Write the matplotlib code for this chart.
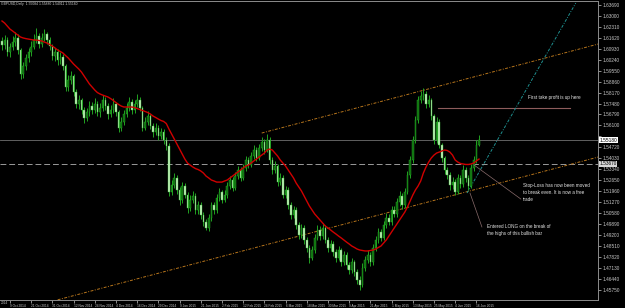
import matplotlib
matplotlib.use("Agg")
import matplotlib.pyplot as plt
import numpy as np

# ---------------- data (GBPUSD, daily) ----------------
first_open = 1.6140
closes = [1.6116, 1.6148, 1.6072, 1.6104, 1.6135, 1.6161, 1.6085, 1.5934, 1.5984, 1.6035,
          1.6072, 1.6104, 1.6148, 1.6173, 1.6123, 1.6161, 1.6186, 1.6148, 1.6110, 1.6047,
          1.6072, 1.6022, 1.6041, 1.5984, 1.5852, 1.5896, 1.5921, 1.5820, 1.5745, 1.5770,
          1.5707, 1.5657, 1.5694, 1.5732, 1.5707, 1.5745, 1.5694, 1.5720, 1.5770, 1.5732,
          1.5682, 1.5707, 1.5745, 1.5694, 1.5594, 1.5631, 1.5682, 1.5720, 1.5757, 1.5707,
          1.5745, 1.5770, 1.5720, 1.5594, 1.5631, 1.5669, 1.5606, 1.5568, 1.5594, 1.5543,
          1.5568, 1.5518, 1.5480, 1.5190, 1.5234, 1.5279, 1.5203, 1.5140, 1.5228, 1.5171,
          1.5090, 1.5140, 1.5165, 1.5077, 1.5108, 1.5045, 1.5001, 1.4964, 1.5027, 1.5108,
          1.5077, 1.5153, 1.5190, 1.5140, 1.5171, 1.5228, 1.5266, 1.5216, 1.5291, 1.5329,
          1.5279, 1.5342, 1.5392, 1.5360, 1.5417, 1.5455, 1.5405, 1.5468, 1.5505, 1.5455,
          1.5518, 1.5392, 1.5329, 1.5354, 1.5253, 1.5279, 1.5171, 1.5203, 1.5108, 1.5045,
          1.5077, 1.4982, 1.4919, 1.4964, 1.4888, 1.4838, 1.4775, 1.4825, 1.4901, 1.4951,
          1.4913, 1.4964, 1.4888, 1.4838, 1.4863, 1.4812, 1.4775, 1.4825, 1.4749, 1.4793,
          1.4730, 1.4699, 1.4749, 1.4686, 1.4636, 1.4604, 1.4712, 1.4762, 1.4793, 1.4749,
          1.4838, 1.4888, 1.4938, 1.4901, 1.4982, 1.5027, 1.5001, 1.5077, 1.5052, 1.5127,
          1.5165, 1.5108, 1.5190, 1.5297, 1.5392, 1.5518, 1.5644, 1.5770, 1.5795, 1.5808,
          1.5745, 1.5770, 1.5669, 1.5518, 1.5631, 1.5486, 1.5405, 1.5329, 1.5297, 1.5234,
          1.5253, 1.5190, 1.5279, 1.5241, 1.5329, 1.5279, 1.5228, 1.5342, 1.5392, 1.5486,
          1.5518]
highs = [1.6165, 1.6180, 1.6170, 1.6130, 1.6175, 1.6200, 1.6185, 1.6100, 1.6010, 1.6060,
         1.6100, 1.6140, 1.6185, 1.6225, 1.6190, 1.6195, 1.6215, 1.6200, 1.6165, 1.6125,
         1.6095, 1.6090, 1.6070, 1.6060, 1.6000, 1.5925, 1.5950, 1.5935, 1.5840, 1.5800,
         1.5785, 1.5725, 1.5720, 1.5765, 1.5760, 1.5780, 1.5765, 1.5750, 1.5800, 1.5790,
         1.5750, 1.5740, 1.5785, 1.5760, 1.5710, 1.5660, 1.5705, 1.5750, 1.5790, 1.5775,
         1.5770, 1.5810, 1.5790, 1.5735, 1.5660, 1.5700, 1.5685, 1.5625, 1.5625, 1.5610,
         1.5595, 1.5590, 1.5540, 1.5500, 1.5265, 1.5310, 1.5300, 1.5225, 1.5255, 1.5250,
         1.5190, 1.5170, 1.5195, 1.5185, 1.5135, 1.5125, 1.5065, 1.5020, 1.5050, 1.5130,
         1.5125, 1.5180, 1.5215, 1.5205, 1.5200, 1.5255, 1.5290, 1.5285, 1.5315, 1.5355,
         1.5350, 1.5370, 1.5420, 1.5410, 1.5445, 1.5485, 1.5475, 1.5495, 1.5535, 1.5525,
         1.5555, 1.5535, 1.5410, 1.5385, 1.5370, 1.5310, 1.5295, 1.5230, 1.5220, 1.5125,
         1.5105, 1.5095, 1.5000, 1.4990, 1.4980, 1.4905, 1.4855, 1.4850, 1.4925, 1.4985,
         1.4975, 1.4995, 1.4980, 1.4905, 1.4890, 1.4880, 1.4830, 1.4850, 1.4840, 1.4820,
         1.4810, 1.4750, 1.4775, 1.4765, 1.4705, 1.4660, 1.4740, 1.4790, 1.4825, 1.4815,
         1.4865, 1.4915, 1.4965, 1.4960, 1.5010, 1.5060, 1.5050, 1.5105, 1.5100, 1.5155,
         1.5195, 1.5185, 1.5215, 1.5320, 1.5420, 1.5545, 1.5670, 1.5795, 1.5830, 1.5845,
         1.5825, 1.5800, 1.5785, 1.5685, 1.5660, 1.5650, 1.5500, 1.5420, 1.5345, 1.5315,
         1.5285, 1.5270, 1.5305, 1.5300, 1.5360, 1.5350, 1.5295, 1.5370, 1.5420, 1.5520,
         1.5550]
lows = [1.6085, 1.6090, 1.6050, 1.6040, 1.6085, 1.6110, 1.6060, 1.5900, 1.5910, 1.5960,
        1.6010, 1.6050, 1.6090, 1.6130, 1.6100, 1.6105, 1.6140, 1.6125, 1.6085, 1.6020,
        1.6015, 1.5990, 1.5995, 1.5960, 1.5830, 1.5825, 1.5870, 1.5795, 1.5720, 1.5715,
        1.5680, 1.5625, 1.5640, 1.5670, 1.5685, 1.5690, 1.5670, 1.5665, 1.5700, 1.5710,
        1.5650, 1.5660, 1.5690, 1.5670, 1.5570, 1.5575, 1.5615, 1.5665, 1.5700, 1.5685,
        1.5690, 1.5725, 1.5700, 1.5575, 1.5580, 1.5610, 1.5585, 1.5540, 1.5550, 1.5520,
        1.5525, 1.5495, 1.5455, 1.5165, 1.5170, 1.5215, 1.5180, 1.5110, 1.5120, 1.5150,
        1.5060, 1.5070, 1.5120, 1.5050, 1.5055, 1.5020, 1.4975, 1.4950, 1.4945, 1.5010,
        1.5050, 1.5060, 1.5135, 1.5120, 1.5125, 1.5155, 1.5210, 1.5195, 1.5200, 1.5275,
        1.5260, 1.5265, 1.5325, 1.5340, 1.5345, 1.5400, 1.5385, 1.5390, 1.5450, 1.5430,
        1.5440, 1.5370, 1.5305, 1.5310, 1.5230, 1.5235, 1.5150, 1.5150, 1.5085, 1.5020,
        1.5025, 1.4960, 1.4895, 1.4900, 1.4865, 1.4810, 1.4740, 1.4760, 1.4805, 1.4885,
        1.4890, 1.4895, 1.4870, 1.4815, 1.4820, 1.4790, 1.4750, 1.4760, 1.4725, 1.4730,
        1.4705, 1.4675, 1.4680, 1.4660, 1.4610, 1.4570, 1.4590, 1.4695, 1.4740, 1.4725,
        1.4730, 1.4820, 1.4870, 1.4880, 1.4885, 1.4965, 1.4980, 1.4985, 1.5030, 1.5035,
        1.5105, 1.5085, 1.5090, 1.5175, 1.5280, 1.5375, 1.5500, 1.5625, 1.5750, 1.5770,
        1.5720, 1.5725, 1.5645, 1.5495, 1.5500, 1.5465, 1.5380, 1.5305, 1.5270, 1.5200,
        1.5210, 1.5170, 1.5175, 1.5215, 1.5225, 1.5255, 1.5200, 1.5215, 1.5325, 1.5375,
        1.5480]
# red moving average line
ma = [1.6268, 1.6255, 1.6236, 1.6217, 1.6205, 1.6192, 1.6179, 1.6167, 1.6161, 1.6157,
      1.6154, 1.6151, 1.6148, 1.6148, 1.6145, 1.6142, 1.6135, 1.6129, 1.6120, 1.6110,
      1.6098, 1.6085, 1.6076, 1.6066, 1.6050, 1.6035, 1.6016, 1.5997, 1.5981, 1.5965,
      1.5946, 1.5921, 1.5896, 1.5871, 1.5852, 1.5833, 1.5817, 1.5808, 1.5801, 1.5795,
      1.5789, 1.5779, 1.5767, 1.5754, 1.5742, 1.5732, 1.5726, 1.5726, 1.5726, 1.5726,
      1.5723, 1.5716, 1.5710, 1.5704, 1.5698, 1.5691, 1.5682, 1.5669, 1.5660, 1.5650,
      1.5641, 1.5635, 1.5622, 1.5587, 1.5556, 1.5524, 1.5493, 1.5461, 1.5430, 1.5398,
      1.5373, 1.5360, 1.5348, 1.5338, 1.5332, 1.5323, 1.5310, 1.5291, 1.5279, 1.5266,
      1.5260, 1.5253, 1.5253, 1.5253, 1.5260, 1.5266, 1.5279, 1.5291, 1.5304, 1.5316,
      1.5329, 1.5342, 1.5354, 1.5360, 1.5373, 1.5386, 1.5398, 1.5411, 1.5423, 1.5436,
      1.5455, 1.5461, 1.5455, 1.5436, 1.5417, 1.5392, 1.5373, 1.5354, 1.5329, 1.5304,
      1.5279, 1.5247, 1.5222, 1.5197, 1.5165, 1.5134, 1.5102, 1.5077, 1.5052, 1.5033,
      1.5014, 1.4995, 1.4976, 1.4964, 1.4951, 1.4938, 1.4926, 1.4913, 1.4901, 1.4888,
      1.4875, 1.4863, 1.4850, 1.4841, 1.4831, 1.4825, 1.4822, 1.4819, 1.4819, 1.4822,
      1.4825, 1.4831, 1.4841, 1.4850, 1.4869, 1.4888, 1.4913, 1.4938, 1.4964, 1.4989,
      1.5014, 1.5039, 1.5064, 1.5096, 1.5134, 1.5171, 1.5203, 1.5228, 1.5260, 1.5310,
      1.5348, 1.5379, 1.5405, 1.5423, 1.5436, 1.5442, 1.5449, 1.5455, 1.5452, 1.5442,
      1.5423, 1.5392, 1.5379, 1.5370, 1.5367, 1.5364, 1.5364, 1.5367, 1.5373, 1.5386,
      1.5398]

date_labels = ["9 Oct 2014", "21 Oct 2014", "31 Oct 2014", "12 Nov 2014", "24 Nov 2014",
               "4 Dec 2014", "16 Dec 2014", "29 Dec 2014", "9 Jan 2015", "21 Jan 2015",
               "2 Feb 2015", "12 Feb 2015", "24 Feb 2015", "6 Mar 2015", "18 Mar 2015",
               "30 Mar 2015", "9 Apr 2015", "21 Apr 2015", "1 May 2015", "13 May 2015",
               "25 May 2015", "4 Jun 2015", "16 Jun 2015"]
date_bars = [3 + 8 * k for k in range(len(date_labels))]
edge_label = "2014"   # tail of the label that is cut by the left edge

price_ticks = [1.6369, 1.6300, 1.6231, 1.6162, 1.6093, 1.6024, 1.5955, 1.5886, 1.5817,
               1.5748, 1.5679, 1.5610, 1.5541, 1.5472, 1.5403, 1.5334, 1.5265, 1.5196,
               1.5127, 1.5058, 1.4989, 1.4920, 1.4851, 1.4782, 1.4713, 1.4644, 1.4575]

bid_price = 1.5518
stop_price = 1.5367
tp_price = 1.5720
# trend lines: (bar, price) pairs
upper_chan = [(98, 1.5562), (225, 1.6123)]
lower_chan = [(21, 1.4511), (225, 1.5411)]
target_ray = [(175.5, 1.5184), (216.5, 1.6381)]
tp_line = [(164.5, tp_price), (214.3, tp_price)]
call_sl = [(178.1, 1.5361), (195.8, 1.5146)]
call_entry = [(176.6, 1.5184), (181.1, 1.4970)]

# ---------------- plot ----------------
bg = "#000000"
ylo, yhi = 1.4510, 1.6394
fig = plt.figure(figsize=(6.25, 3.08), dpi=100, facecolor=bg)
ax = fig.add_axes([0, 8 / 308, 598 / 625, 299 / 308], facecolor=bg)

n = len(closes)
x = np.arange(n)
opens = [first_open] + closes[:-1]
o = np.array(opens)
c = np.array(closes)
up = c >= o

ax.vlines(x, lows, highs, color="#22a322", lw=0.7, zorder=2)
ax.bar(x[up], (c - o)[up], bottom=o[up], width=0.6, color="#0d6a0d",
       edgecolor="#27b027", lw=0.3, zorder=3)
ax.bar(x[~up], (c - o)[~up], bottom=o[~up], width=0.6, color="#c9f3c0",
       edgecolor="#3cb83c", lw=0.3, zorder=3)

ax.plot(np.arange(len(ma)), ma, color="#d00000", lw=1.0, zorder=4)

# horizontal levels
ax.axhline(bid_price, color="#707070", lw=0.6, zorder=1)
ax.axhline(stop_price, color="#9a9a9a", lw=0.7, dashes=(6, 3), zorder=1)
ax.plot(*zip(*tp_line), color="#8e5c5c", lw=0.8, zorder=1)

# channel and projection
dd = (0, (3, 1.5, 1, 1.5))
for seg in (upper_chan, lower_chan):
    ax.plot(*zip(*seg), color="#b8761c", lw=0.7, linestyle=dd, zorder=1)
ax.plot(*zip(*target_ray), color="#1f9090", lw=0.7, linestyle=dd, zorder=1)

for seg in (call_sl, call_entry):
    ax.plot(*zip(*seg), color="#8a6c6c", lw=0.5, zorder=5)

tfont = dict(color="#e6e6e6", fontsize=3.3, family="Liberation Sans", zorder=6)
ax.text(198.5, 1.5789, "First take profit is up here", va="center", ha="left", **tfont)
ax.text(196.6, 1.5250, "Stop-Loss has now been moved\nto break even. It is now a free\ntrade",
        va="top", ha="left", linespacing=1.55, **tfont)
ax.text(183.0, 1.4990, "Entered LONG on the break of\nthe highs of this bullish bar",
        va="top", ha="left", linespacing=1.55, **tfont)

ax.text(0.002, 0.996, "GBPUSD,Daily  1.55084 1.55880 1.54911 1.55180", transform=ax.transAxes,
        va="top", ha="left", color="#d0d0d0", fontsize=2.4, family="Liberation Sans")

ax.set_xlim(-0.755, 224.9)
ax.set_ylim(ylo, yhi)

# axes frame
for side in ("top", "right", "bottom"):
    ax.spines[side].set_color("#8c8c8c")
    ax.spines[side].set_linewidth(0.7)
ax.spines["left"].set_visible(False)

ax.yaxis.tick_right()
ax.set_yticks(price_ticks)
# the label sitting under the bid box is hidden, as on the terminal
ax.set_yticklabels(["" if abs(p - bid_price) < 0.003 else "%.5f" % p for p in price_ticks])
ax.tick_params(axis="y", colors="#c8c8c8", labelsize=3.4, length=2, width=0.5, pad=1.5)
ax.set_xticks(date_bars)
ax.set_xticklabels(date_labels)
ax.tick_params(axis="x", colors="#c8c8c8", labelsize=2.3, length=2, width=0.5, pad=0.8)
for lbl in ax.get_xticklabels() + ax.get_yticklabels():
    lbl.set_family("Liberation Sans")
for lbl in ax.get_xticklabels():
    lbl.set_ha("left")

fig.text(0.5 / 625, 8 / 308 - 0.004, edge_label, color="#c8c8c8", fontsize=2.3,
         family="Liberation Sans", va="top", ha="left")

# price boxes on the scale
def price_box(p, fc):
    yf = 8 / 308 + (p - ylo) / (yhi - ylo) * 299 / 308
    fig.text(599.5 / 625, yf, "%.5f" % p, fontsize=3.4, family="Liberation Sans",
             color="#000000", va="center", ha="left", zorder=10,
             bbox=dict(boxstyle="square,pad=0.15", fc=fc, ec="none"))

price_box(bid_price, "#ffffff")
price_box(stop_price, "#d8d8d8")

fig.savefig("out.png", dpi=100, facecolor=bg)
